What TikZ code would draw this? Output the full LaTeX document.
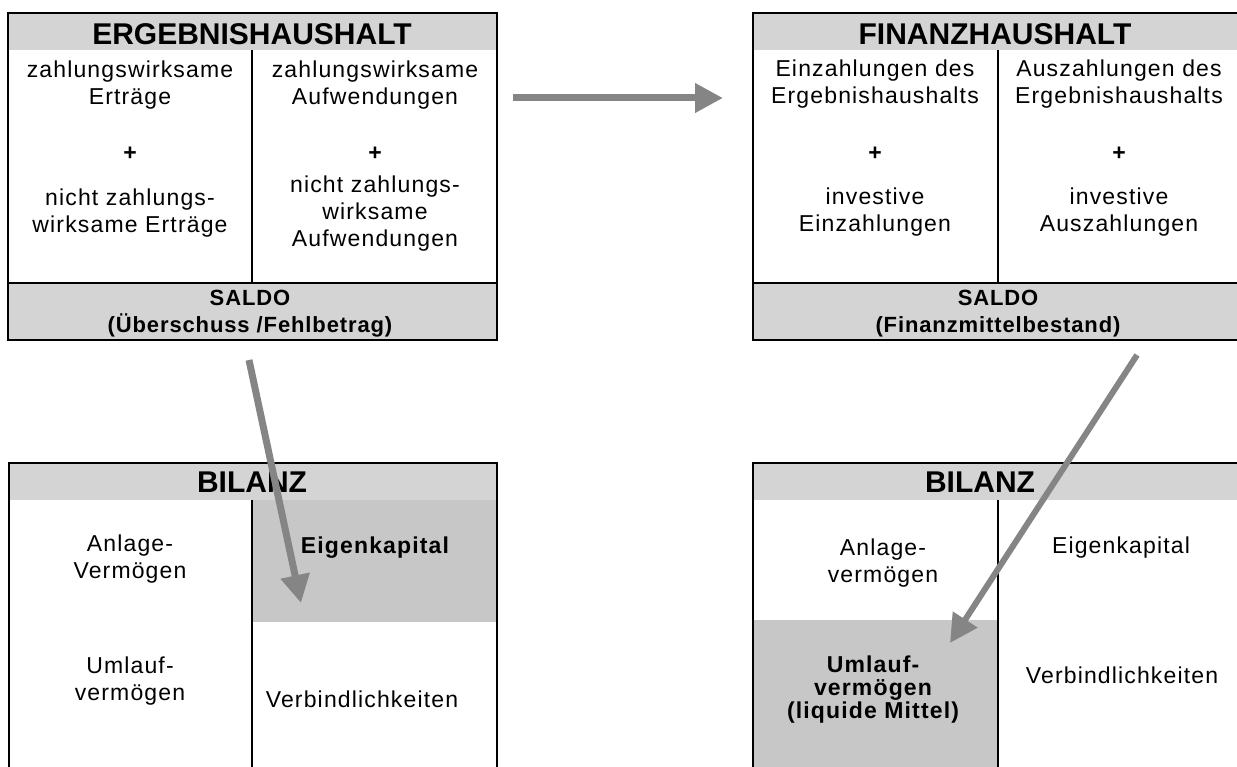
\documentclass[tikz,border=0pt]{standalone}
\usepackage{fontspec}
\setmainfont{Liberation Sans}
\newfontfamily\cellfont[LetterSpace=5]{Liberation Sans}
\newfontfamily\saldofont[LetterSpace=4]{Liberation Sans}
\usetikzlibrary{arrows.meta}
\definecolor{bandgray}{gray}{0.83}
\definecolor{markgray}{gray}{0.78}
\definecolor{flowgray}{gray}{0.52}
\begin{document}
\begin{tikzpicture}[x=1pt,y=-1pt,
  frame/.style={black,line width=1.2pt},
  head/.style={font=\fontsize{30}{32}\selectfont\bfseries,anchor=base},
  cell/.style={font=\cellfont\fontsize{23}{27}\selectfont,align=center,anchor=base},
  boldcell/.style={cell,font=\cellfont\fontsize{23}{27}\selectfont\bfseries},
  saldo/.style={font=\saldofont\fontsize{22}{28}\selectfont\bfseries,align=center,anchor=base},
  flow/.style={flowgray,line width=7pt,-{Triangle[length=28pt,width=28pt]}}]
\tikzstyle{every node}+=[inner sep=0pt]
\clip (0,0) rectangle (1237,767);
\fill [bandgray] (8,13) rectangle (497,50);
\fill [bandgray] (8,283) rectangle (497,340);
\fill [bandgray] (753,13) rectangle (1250,50);
\fill [bandgray] (753,283) rectangle (1250,340);
\fill [bandgray] (9,463) rectangle (497,500);
\fill [markgray] (252,500) rectangle (497,622);
\fill [bandgray] (753,463) rectangle (1250,500);
\fill [markgray] (753,620) rectangle (998,780);
\draw [frame] (8,13) rectangle (497,340);
\draw [frame] (8,283) -- (497,283);
\draw [frame] (252,50) -- (252,283);
\draw [frame] (1250,13) -- (753,13) -- (753,340) -- (1250,340);
\draw [frame] (753,283) -- (1250,283);
\draw [frame] (998,50) -- (998,283);
\draw [frame] (9,780) -- (9,463) -- (497,463) -- (497,780);
\draw [frame] (252,500) -- (252,780);
\draw [frame] (753,780) -- (753,463) -- (1250,463);
\draw [frame] (998,500) -- (998,780);
\node [head] (ergHead) at (252,45) {ERGEBNISHAUSHALT};
\node [cell] (ergInL) at (130,105) {zahlungswirksame\\Erträge};
\node [boldcell] (ergPlusL) at (130,161) {+};
\node [cell] (ergNzL) at (130,233) {nicht zahlungs-\\wirksame Erträge};
\node [cell] (ergInR) at (375,105) {zahlungswirksame\\Aufwendungen};
\node [boldcell] (ergPlusR) at (375,161) {+};
\node [cell] (ergNzR) at (375,247) {nicht zahlungs-\\wirksame\\Aufwendungen};
\node [saldo] (ergSaldo) at (250,333) {SALDO\\(Überschuss /Fehlbetrag)};
\node [head] (finHead) at (995,45) {FINANZHAUSHALT};
\node [cell] (finInL) at (875,104) {Einzahlungen des\\Ergebnishaushalts};
\node [boldcell] (finPlusL) at (875,161) {+};
\node [cell] (finInvL) at (875,232) {investive\\Einzahlungen};
\node [cell] (finInR) at (1119,104) {Auszahlungen des\\Ergebnishaushalts};
\node [boldcell] (finPlusR) at (1119,161) {+};
\node [cell] (finInvR) at (1119,232) {investive\\Auszahlungen};
\node [saldo] (finSaldo) at (998,333) {SALDO\\(Finanzmittelbestand)};
\node [head] (bilHeadL) at (252,492) {BILANZ};
\node [cell] (avL) at (130,578) {Anlage-\\Vermögen};
\node [boldcell] (ekL) at (375,553) {Eigenkapital};
\node [cell] (uvL) at (130,700) {Umlauf-\\vermögen};
\node [cell] (vbL) at (362,707) {Verbindlichkeiten};
\node [head] (bilHeadR) at (980,492) {BILANZ};
\node [cell] (avR) at (883,582) {Anlage-\\vermögen};
\node [cell] (ekR) at (1121,553) {Eigenkapital};
\node [boldcell,font=\cellfont\fontsize{23}{23}\selectfont\bfseries] (uvR) at (873,718) {Umlauf-\\vermögen\\(liquide Mittel)};
\node [cell] (vbR) at (1122,683) {Verbindlichkeiten};
\coordinate (ergOut) at (513,98);
\coordinate (finIn) at (723,98);
\coordinate (saldoL) at (249,360);
\coordinate (ekIn) at (301,603);
\coordinate (saldoR) at (1137,355);
\coordinate (uvIn) at (950,643);
\draw [flow] (ergOut) -- (finIn);
\draw [flow] (saldoL) -- (ekIn);
\draw [flow,line width=6pt] (saldoR) -- (uvIn);
\end{tikzpicture}
\end{document}
